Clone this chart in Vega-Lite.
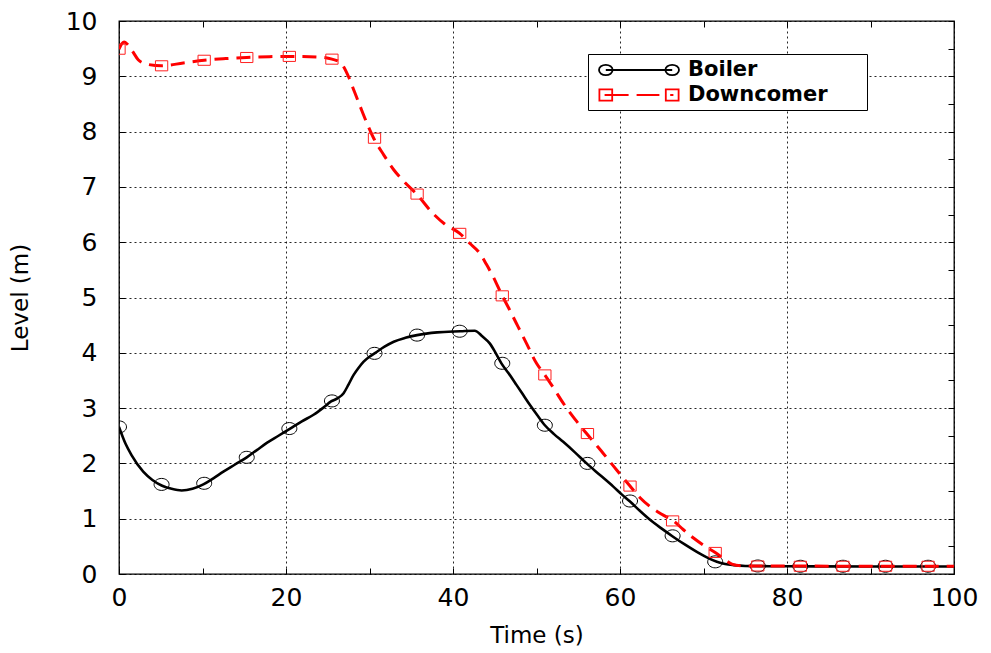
{
  "$schema": "https://vega.github.io/schema/vega-lite/v6.json",
  "width": 835,
  "height": 553,
  "autosize": {"type": "none"},
  "padding": {"left": 119, "top": 21, "right": 37, "bottom": 79},
  "background": "white",
  "config": {"view": {"stroke": "black", "strokeWidth": 1.3}, "font": "DejaVu Sans"},
  "datasets": {
    "lines": [
      {"series": "Boiler", "t": 0, "level": 2.66},
      {"series": "Boiler", "t": 0.8, "level": 2.35},
      {"series": "Boiler", "t": 1.5, "level": 2.15},
      {"series": "Boiler", "t": 2.9, "level": 1.85},
      {"series": "Boiler", "t": 4.0, "level": 1.7},
      {"series": "Boiler", "t": 5.1, "level": 1.6},
      {"series": "Boiler", "t": 6.3, "level": 1.54},
      {"series": "Boiler", "t": 7.5, "level": 1.51},
      {"series": "Boiler", "t": 8.8, "level": 1.54},
      {"series": "Boiler", "t": 10.1, "level": 1.62},
      {"series": "Boiler", "t": 11.3, "level": 1.73},
      {"series": "Boiler", "t": 12.5, "level": 1.85},
      {"series": "Boiler", "t": 13.9, "level": 1.98},
      {"series": "Boiler", "t": 15.3, "level": 2.11},
      {"series": "Boiler", "t": 16.5, "level": 2.24},
      {"series": "Boiler", "t": 17.7, "level": 2.37},
      {"series": "Boiler", "t": 19.1, "level": 2.5},
      {"series": "Boiler", "t": 20.5, "level": 2.63},
      {"series": "Boiler", "t": 21.9, "level": 2.76},
      {"series": "Boiler", "t": 23.3, "level": 2.88},
      {"series": "Boiler", "t": 24.4, "level": 3.0},
      {"series": "Boiler", "t": 25.4, "level": 3.12},
      {"series": "Boiler", "t": 26.2, "level": 3.18},
      {"series": "Boiler", "t": 26.9, "level": 3.27},
      {"series": "Boiler", "t": 27.5, "level": 3.43},
      {"series": "Boiler", "t": 28.1, "level": 3.6},
      {"series": "Boiler", "t": 28.7, "level": 3.73},
      {"series": "Boiler", "t": 29.3, "level": 3.84},
      {"series": "Boiler", "t": 30.0, "level": 3.93},
      {"series": "Boiler", "t": 30.7, "level": 4.0},
      {"series": "Boiler", "t": 31.8, "level": 4.11},
      {"series": "Boiler", "t": 32.9, "level": 4.2},
      {"series": "Boiler", "t": 34.3, "level": 4.27},
      {"series": "Boiler", "t": 35.7, "level": 4.32},
      {"series": "Boiler", "t": 38.1, "level": 4.37},
      {"series": "Boiler", "t": 40.9, "level": 4.39},
      {"series": "Boiler", "t": 42.6, "level": 4.4},
      {"series": "Boiler", "t": 43.5, "level": 4.3},
      {"series": "Boiler", "t": 44.4, "level": 4.17},
      {"series": "Boiler", "t": 45.1, "level": 4.0},
      {"series": "Boiler", "t": 45.8, "level": 3.81},
      {"series": "Boiler", "t": 46.7, "level": 3.62},
      {"series": "Boiler", "t": 47.6, "level": 3.42},
      {"series": "Boiler", "t": 48.4, "level": 3.24},
      {"series": "Boiler", "t": 49.2, "level": 3.06},
      {"series": "Boiler", "t": 50.1, "level": 2.87},
      {"series": "Boiler", "t": 51.0, "level": 2.69},
      {"series": "Boiler", "t": 52.1, "level": 2.53},
      {"series": "Boiler", "t": 53.2, "level": 2.39},
      {"series": "Boiler", "t": 54.6, "level": 2.2},
      {"series": "Boiler", "t": 56.0, "level": 2.0},
      {"series": "Boiler", "t": 57.6, "level": 1.79},
      {"series": "Boiler", "t": 59.2, "level": 1.58},
      {"series": "Boiler", "t": 60.2, "level": 1.44},
      {"series": "Boiler", "t": 61.2, "level": 1.31},
      {"series": "Boiler", "t": 62.4, "level": 1.14},
      {"series": "Boiler", "t": 63.6, "level": 0.98},
      {"series": "Boiler", "t": 65.0, "level": 0.82},
      {"series": "Boiler", "t": 66.4, "level": 0.67},
      {"series": "Boiler", "t": 67.8, "level": 0.53},
      {"series": "Boiler", "t": 69.2, "level": 0.4},
      {"series": "Boiler", "t": 70.4, "level": 0.3},
      {"series": "Boiler", "t": 71.6, "level": 0.22},
      {"series": "Boiler", "t": 72.6, "level": 0.18},
      {"series": "Boiler", "t": 73.6, "level": 0.16},
      {"series": "Boiler", "t": 75, "level": 0.145},
      {"series": "Boiler", "t": 80, "level": 0.14},
      {"series": "Boiler", "t": 90, "level": 0.135},
      {"series": "Boiler", "t": 100, "level": 0.135},
      {"series": "Downcomer", "t": 0, "level": 9.49},
      {"series": "Downcomer", "t": 0.3, "level": 9.58},
      {"series": "Downcomer", "t": 0.6, "level": 9.62},
      {"series": "Downcomer", "t": 1.0, "level": 9.58},
      {"series": "Downcomer", "t": 1.5, "level": 9.48},
      {"series": "Downcomer", "t": 2.3, "level": 9.3},
      {"series": "Downcomer", "t": 3.3, "level": 9.22},
      {"series": "Downcomer", "t": 5.1, "level": 9.19},
      {"series": "Downcomer", "t": 7.7, "level": 9.24},
      {"series": "Downcomer", "t": 10.2, "level": 9.29},
      {"series": "Downcomer", "t": 12.8, "level": 9.32},
      {"series": "Downcomer", "t": 15.3, "level": 9.34},
      {"series": "Downcomer", "t": 18.0, "level": 9.355},
      {"series": "Downcomer", "t": 20.5, "level": 9.36},
      {"series": "Downcomer", "t": 23.7, "level": 9.35},
      {"series": "Downcomer", "t": 25.5, "level": 9.31},
      {"series": "Downcomer", "t": 26.5, "level": 9.25},
      {"series": "Downcomer", "t": 27.5, "level": 8.99},
      {"series": "Downcomer", "t": 28.2, "level": 8.72},
      {"series": "Downcomer", "t": 28.9, "level": 8.45},
      {"series": "Downcomer", "t": 29.7, "level": 8.15},
      {"series": "Downcomer", "t": 30.5, "level": 7.88},
      {"series": "Downcomer", "t": 31.7, "level": 7.58},
      {"series": "Downcomer", "t": 32.9, "level": 7.31},
      {"series": "Downcomer", "t": 34.3, "level": 7.07},
      {"series": "Downcomer", "t": 35.7, "level": 6.86},
      {"series": "Downcomer", "t": 37.6, "level": 6.52},
      {"series": "Downcomer", "t": 39.0, "level": 6.33},
      {"series": "Downcomer", "t": 40.8, "level": 6.16},
      {"series": "Downcomer", "t": 42.0, "level": 5.98},
      {"series": "Downcomer", "t": 43.2, "level": 5.8},
      {"series": "Downcomer", "t": 44.0, "level": 5.6},
      {"series": "Downcomer", "t": 44.8, "level": 5.38},
      {"series": "Downcomer", "t": 45.9, "level": 5.03},
      {"series": "Downcomer", "t": 46.7, "level": 4.8},
      {"series": "Downcomer", "t": 47.6, "level": 4.53},
      {"series": "Downcomer", "t": 48.8, "level": 4.17},
      {"series": "Downcomer", "t": 50.0, "level": 3.81},
      {"series": "Downcomer", "t": 51.0, "level": 3.6},
      {"series": "Downcomer", "t": 52.1, "level": 3.35},
      {"series": "Downcomer", "t": 53.2, "level": 3.09},
      {"series": "Downcomer", "t": 54.6, "level": 2.8},
      {"series": "Downcomer", "t": 56.0, "level": 2.54},
      {"series": "Downcomer", "t": 57.0, "level": 2.36},
      {"series": "Downcomer", "t": 58.0, "level": 2.18},
      {"series": "Downcomer", "t": 59.6, "level": 1.88},
      {"series": "Downcomer", "t": 61.2, "level": 1.59},
      {"series": "Downcomer", "t": 62.4, "level": 1.38},
      {"series": "Downcomer", "t": 63.6, "level": 1.22},
      {"series": "Downcomer", "t": 65.0, "level": 1.08},
      {"series": "Downcomer", "t": 66.4, "level": 0.96},
      {"series": "Downcomer", "t": 67.6, "level": 0.8},
      {"series": "Downcomer", "t": 68.8, "level": 0.65},
      {"series": "Downcomer", "t": 70.1, "level": 0.51},
      {"series": "Downcomer", "t": 71.4, "level": 0.39},
      {"series": "Downcomer", "t": 72.4, "level": 0.28},
      {"series": "Downcomer", "t": 73.4, "level": 0.18},
      {"series": "Downcomer", "t": 74.5, "level": 0.15},
      {"series": "Downcomer", "t": 76.5, "level": 0.145},
      {"series": "Downcomer", "t": 100, "level": 0.14}
    ],
    "markers": [
      {"series": "Boiler", "t": 0, "level": 2.66},
      {"series": "Boiler", "t": 5.1, "level": 1.62},
      {"series": "Boiler", "t": 10.2, "level": 1.64},
      {"series": "Boiler", "t": 15.3, "level": 2.11},
      {"series": "Boiler", "t": 20.4, "level": 2.63},
      {"series": "Boiler", "t": 25.5, "level": 3.13},
      {"series": "Boiler", "t": 30.6, "level": 3.99},
      {"series": "Boiler", "t": 35.7, "level": 4.32},
      {"series": "Boiler", "t": 40.8, "level": 4.39},
      {"series": "Boiler", "t": 45.9, "level": 3.81},
      {"series": "Boiler", "t": 51.0, "level": 2.69},
      {"series": "Boiler", "t": 56.1, "level": 2.0},
      {"series": "Boiler", "t": 61.2, "level": 1.32},
      {"series": "Boiler", "t": 66.3, "level": 0.69},
      {"series": "Boiler", "t": 71.4, "level": 0.22},
      {"series": "Boiler", "t": 76.5, "level": 0.145},
      {"series": "Boiler", "t": 81.6, "level": 0.14},
      {"series": "Boiler", "t": 86.7, "level": 0.14},
      {"series": "Boiler", "t": 91.8, "level": 0.14},
      {"series": "Boiler", "t": 96.9, "level": 0.14},
      {"series": "Downcomer", "t": 0, "level": 9.49},
      {"series": "Downcomer", "t": 5.1, "level": 9.19},
      {"series": "Downcomer", "t": 10.2, "level": 9.29},
      {"series": "Downcomer", "t": 15.3, "level": 9.34},
      {"series": "Downcomer", "t": 20.4, "level": 9.36},
      {"series": "Downcomer", "t": 25.5, "level": 9.31},
      {"series": "Downcomer", "t": 30.6, "level": 7.88},
      {"series": "Downcomer", "t": 35.7, "level": 6.87},
      {"series": "Downcomer", "t": 40.8, "level": 6.16},
      {"series": "Downcomer", "t": 45.9, "level": 5.03},
      {"series": "Downcomer", "t": 51.0, "level": 3.6},
      {"series": "Downcomer", "t": 56.1, "level": 2.54},
      {"series": "Downcomer", "t": 61.2, "level": 1.59},
      {"series": "Downcomer", "t": 66.3, "level": 0.96},
      {"series": "Downcomer", "t": 71.4, "level": 0.39},
      {"series": "Downcomer", "t": 76.5, "level": 0.145},
      {"series": "Downcomer", "t": 81.6, "level": 0.14},
      {"series": "Downcomer", "t": 86.7, "level": 0.14},
      {"series": "Downcomer", "t": 91.8, "level": 0.14},
      {"series": "Downcomer", "t": 96.9, "level": 0.14}
    ]
  },
  "resolve": {"axis": {"x": "independent", "y": "independent"}},
  "layer": [
    {
      "data": {"name": "lines"},
      "transform": [{"filter": "datum.series === 'Boiler'"}],
      "mark": {"type": "line", "interpolate": "monotone", "color": "#000000", "strokeWidth": 2.6, "clip": true},
      "encoding": {
        "x": {"field": "t", "type": "quantitative", "scale": {"domain": [0, 100], "nice": false, "zero": false},
          "axis": {"orient": "bottom", "values": [0, 10, 20, 30, 40, 50, 60, 70, 80, 90, 100],
            "labelExpr": "datum.value % 20 === 0 ? datum.label : ''", "format": "d",
            "labelFont": "DejaVu Sans", "labelFontSize": 25, "labelColor": "black", "labelFlush": false, "labelOverlap": false,
            "labelPadding": 17, "tickSize": -6, "tickColor": "black", "tickWidth": 1, "domain": false,
            "grid": true, "gridColor": "black", "gridDash": [2, 3], "gridWidth": 1,
            "gridOpacity": {"condition": {"test": "datum.value % 20 === 0", "value": 0.85}, "value": 0},
            "title": "Time (s)", "titleFont": "DejaVu Sans", "titleFontSize": 23, "titleFontWeight": "normal", "titleColor": "black", "titlePadding": 14}},
        "y": {"field": "level", "type": "quantitative", "scale": {"domain": [0, 10], "nice": false, "zero": false},
          "axis": {"orient": "left", "values": [0, 0.5, 1, 1.5, 2, 2.5, 3, 3.5, 4, 4.5, 5, 5.5, 6, 6.5, 7, 7.5, 8, 8.5, 9, 9.5, 10],
            "labelExpr": "datum.value % 1 === 0 ? datum.label : ''", "format": "d",
            "labelFont": "DejaVu Sans", "labelFontSize": 25, "labelColor": "black", "labelFlush": false, "labelOverlap": false,
            "labelPadding": 28, "tickSize": -6, "tickColor": "black", "tickWidth": 1, "domain": false,
            "grid": true, "gridColor": "black", "gridDash": [2, 3], "gridWidth": 1,
            "gridOpacity": {"condition": {"test": "datum.value % 1 === 0", "value": 0.85}, "value": 0},
            "title": "Level (m)", "titleFont": "DejaVu Sans", "titleFontSize": 23, "titleFontWeight": "normal", "titleColor": "black", "titlePadding": 33}}
      }
    },
    {
      "data": {"name": "markers"},
      "transform": [{"filter": "datum.series === 'Boiler'"}],
      "mark": {"type": "point", "shape": "M-1,0A1,0.8,0,1,0,1,0A1,0.8,0,1,0,-1,0Z", "size": 225, "filled": false, "color": "#000000", "strokeWidth": 1, "opacity": 1, "clip": true},
      "encoding": {
        "x": {"field": "t", "type": "quantitative", "scale": {"domain": [0, 100], "nice": false, "zero": false}, "axis": null},
        "y": {"field": "level", "type": "quantitative", "scale": {"domain": [0, 10], "nice": false, "zero": false}, "axis": null}
      }
    },
    {
      "data": {"name": "lines"},
      "transform": [{"filter": "datum.series === 'Downcomer'"}],
      "mark": {"type": "line", "interpolate": "monotone", "color": "#ff0000", "strokeWidth": 3, "strokeDash": [14, 8], "clip": true},
      "encoding": {
        "x": {"field": "t", "type": "quantitative", "scale": {"domain": [0, 100], "nice": false, "zero": false}, "axis": null},
        "y": {"field": "level", "type": "quantitative", "scale": {"domain": [0, 10], "nice": false, "zero": false}, "axis": null}
      }
    },
    {
      "data": {"name": "markers"},
      "transform": [{"filter": "datum.series === 'Downcomer'"}],
      "mark": {"type": "point", "shape": "M-1,-0.82H1V0.82H-1Z", "size": 151, "filled": false, "color": "#ff2020", "strokeWidth": 1, "opacity": 1, "clip": true},
      "encoding": {
        "x": {"field": "t", "type": "quantitative", "scale": {"domain": [0, 100], "nice": false, "zero": false}, "axis": null},
        "y": {"field": "level", "type": "quantitative", "scale": {"domain": [0, 10], "nice": false, "zero": false}, "axis": null}
      }
    },
    {
      "data": {"name": "markers"},
      "transform": [{"filter": "false"}],
      "mark": {"type": "point", "filled": false, "strokeWidth": 1.6, "opacity": 1},
      "encoding": {
        "x": {"field": "t", "type": "quantitative", "scale": {"domain": [0, 100], "nice": false, "zero": false},
          "axis": {"orient": "top", "values": [0, 10, 20, 30, 40, 50, 60, 70, 80, 90, 100], "labels": false, "tickSize": -6, "tickColor": "black", "tickWidth": 1, "domain": false, "grid": false, "title": null}},
        "y": {"field": "level", "type": "quantitative", "scale": {"domain": [0, 10], "nice": false, "zero": false},
          "axis": {"orient": "right", "values": [0, 0.5, 1, 1.5, 2, 2.5, 3, 3.5, 4, 4.5, 5, 5.5, 6, 6.5, 7, 7.5, 8, 8.5, 9, 9.5, 10], "labels": false, "tickSize": -6, "tickColor": "black", "tickWidth": 1, "domain": false, "grid": false, "title": null}},
        "color": {"field": "series", "type": "nominal", "scale": {"domain": ["Boiler", "Downcomer"], "range": ["#000000", "#ff0000"]},
          "legend": {"title": "\u00a0", "titleOrient": "right", "titlePadding": 34, "titleFontSize": 10, "orient": "none", "legendX": 469, "legendY": 33, "padding": 5, "symbolOffset": 35, "labelOffset": 38,
            "symbolSize": 400, "symbolStrokeWidth": 1.8, "symbolFillColor": "transparent", "labelFont": "DejaVu Sans", "labelFontSize": 21, "labelFontWeight": "bold",
            "labelColor": "black", "labelLimit": 400, "rowPadding": 4, "strokeColor": "black", "fillColor": "white"}},
        "shape": {"field": "series", "type": "nominal",
          "scale": {"domain": ["Boiler", "Downcomer"], "range": [
            "M-4,0A0.68,0.52,0,1,0,-2.64,0A0.68,0.52,0,1,0,-4,0ZM-3.32,0L3.32,0M2.64,0A0.68,0.52,0,1,0,4,0A0.68,0.52,0,1,0,2.64,0Z",
            "M-3.96,-0.56H-2.68V0.56H-3.96ZM-3.44,0L-1.04,0M-0.24,0L2.04,0M2.68,-0.56H3.96V0.56H2.68ZM3.12,0L3.44,0"
          ]},
          "legend": {"title": "\u00a0", "titleOrient": "right", "titlePadding": 34, "titleFontSize": 10, "orient": "none", "legendX": 469, "legendY": 33, "padding": 5, "symbolOffset": 35, "labelOffset": 38,
            "symbolSize": 400, "symbolStrokeWidth": 1.8, "symbolFillColor": "transparent", "labelFont": "DejaVu Sans", "labelFontSize": 21, "labelFontWeight": "bold",
            "labelColor": "black", "labelLimit": 400, "rowPadding": 4, "strokeColor": "black", "fillColor": "white"}}
      }
    }
  ]
}
